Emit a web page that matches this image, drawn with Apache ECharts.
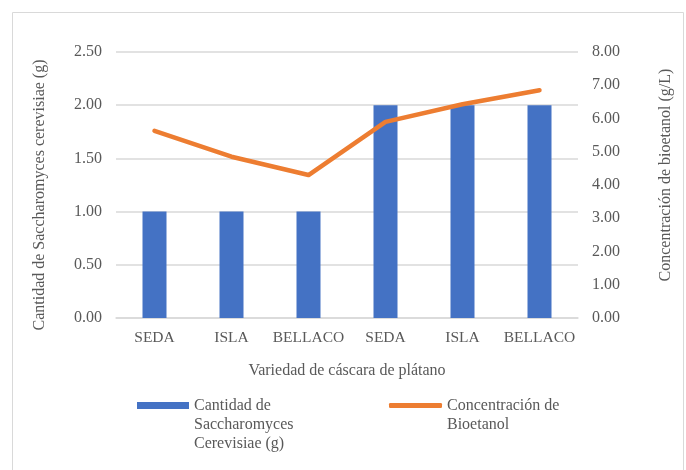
<!DOCTYPE html>
<html>
<head>
<meta charset="utf-8">
<script src="https://cdn.jsdelivr.net/npm/echarts@6/dist/echarts.min.js"></script>
<style>
  html, body { margin: 0; padding: 0; background: #fff; }
  #chart { width: 686px; height: 470px; }
</style>
</head>
<body>
<div id="chart"></div>
<script>
const categories = ['SEDA', 'ISLA', 'BELLACO', 'SEDA', 'ISLA', 'BELLACO']
const levadura = [1, 1, 1, 2, 2, 2]
const bioetanol = [5.63, 4.85, 4.3, 5.9, 6.43, 6.85]

const barName = 'Cantidad de Saccharomyces Cerevisiae (g)'
const lineName = 'Concentración de Bioetanol'

const font = '"Liberation Serif", "Times New Roman", serif'
const textColor = '#595959'
const gridColor = '#d9d9d9'

const chart = echarts.init(document.getElementById('chart'))

const legendText = {
  color: textColor,
  fontFamily: font,
  fontSize: 16,
  lineHeight: 19
}

const nameStyle = { color: textColor, fontFamily: font, fontSize: 16 }

chart.setOption({
  animation: false,
  textStyle: { fontFamily: font },
  graphic: [
    {
      type: 'rect',
      shape: { x: 12.5, y: 12.5, width: 671, height: 480 },
      style: { fill: 'none', stroke: gridColor, lineWidth: 1 }
    }
  ],
  grid: { left: 116, right: 108, top: 52, bottom: 152 },
  legend: [
    {
      left: 137,
      top: 358,
      padding: 0,
      itemWidth: 52,
      itemHeight: 7,
      itemGap: 0,
      icon: 'rect',
      data: [barName],
      // blank lines first so the first text line sits level with the icon
      formatter: () => '\n\nCantidad de\nSaccharomyces\nCerevisiae (g)',
      textStyle: legendText
    },
    {
      left: 389,
      top: 377,
      padding: 0,
      itemWidth: 53,
      itemHeight: 5,
      icon: 'roundRect',
      data: [lineName],
      formatter: () => '\nConcentración de\nBioetanol',
      textStyle: legendText
    }
  ],
  xAxis: {
    type: 'category',
    data: categories,
    name: 'Variedad de cáscara de plátano',
    nameLocation: 'middle',
    nameGap: 45,
    nameTextStyle: nameStyle,
    axisTick: { show: false },
    axisLine: { lineStyle: { color: gridColor, width: 1.5 } },
    axisLabel: { color: textColor, fontFamily: font, fontSize: 15.5, margin: 12, interval: 0 }
  },
  yAxis: [
    {
      type: 'value',
      min: 0,
      max: 2.5,
      interval: 0.5,
      name: 'Cantidad de Saccharomyces cerevisiae (g)',
      nameLocation: 'middle',
      nameGap: 68,
      nameTextStyle: Object.assign({ padding: [0, 20, 0, 0] }, nameStyle),
      splitLine: { lineStyle: { color: gridColor, width: 1.5 } },
      axisLabel: {
        color: textColor, fontFamily: font, fontSize: 16, margin: 14,
        formatter: v => v.toFixed(2)
      }
    },
    {
      type: 'value',
      min: 0,
      max: 8,
      interval: 1,
      name: 'Concentración de bioetanol (g/L)',
      nameLocation: 'middle',
      nameGap: 80,
      nameTextStyle: Object.assign({ padding: [0, 0, 0, 20] }, nameStyle),
      splitLine: { show: false },
      axisLabel: {
        color: textColor, fontFamily: font, fontSize: 16, margin: 14,
        formatter: v => v.toFixed(2)
      }
    }
  ],
  series: [
    {
      name: barName,
      type: 'bar',
      data: levadura,
      barWidth: 24,
      itemStyle: { color: '#4472c4' }
    },
    {
      name: lineName,
      type: 'line',
      yAxisIndex: 1,
      data: bioetanol,
      symbol: 'none',
      lineStyle: { color: '#ed7d31', width: 4.5, cap: 'round', join: 'round' },
      itemStyle: { color: '#ed7d31' }
    }
  ]
})
</script>
</body>
</html>
